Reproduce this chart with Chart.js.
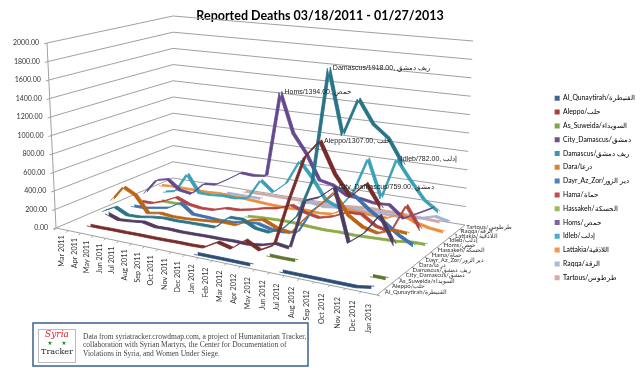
<!DOCTYPE html>
<html>
<head>
<meta charset="utf-8">
<style>
  html, body { margin: 0; padding: 0; background: #fff; }
  canvas { display: block; }
</style>
<script src="https://cdn.jsdelivr.net/npm/chart.js@4"></script>
</head>
<body>
<canvas id="deathsChart" width="640" height="368"></canvas>
<script>
const months = ["Mar 2011", "Apr 2011", "May 2011", "Jun 2011", "Jul 2011", "Aug 2011", "Sep 2011", "Oct 2011", "Nov 2011", "Dec 2011", "Jan 2012", "Feb 2012", "Mar 2012", "Apr 2012", "May 2012", "Jun 2012", "Jul 2012", "Aug 2012", "Sep 2012", "Oct 2012", "Nov 2012", "Dec 2012", "Jan 2013"];
const seriesNames = ["Al_Qunaytirah/القنيطرة", "Aleppo/حلب", "As_Suweida/السويداء", "City_Damascus/دمشق", "Damascus/ريف دمشق", "Dara/درعا", "Dayr_Az_Zor/دير الزور", "Hama/حماة", "Hassakeh/الحسكة", "Homs/حمص", "Idleb/إدلب", "Lattakia/اللاذقية", "Raqqa/الرقة", "Tartous/طرطوس"];
const valueTicks = [0, 200, 400, 600, 800, 1000, 1200, 1400, 1600, 1800, 2000];

const alQunaytirah = [null, null, null, null, null, null, null, null, null, null, 5, 5, 5, 5, 5, null, 5, 5, 5, 5, 5, 5, 30];
const aleppo = [null, 5, 5, 8, 8, 10, 10, 12, 15, 15, 20, 102, 65, 180, 105, 185, 675, 1120, 1307, 1000, 800, 960, 735];
const asSuweida = [null, null, null, null, null, null, null, null, null, null, null, null, null, null, 5, 3, 5, null, null, null, null, 5, 5];
const cityDamascus = [null, 50, 2, 13, 30, 2, 7, 2, 5, 10, 10, 15, 10, 30, 75, 55, 570, 630, 759, 225, 345, 555, 285];
const damascus = [5, 75, 10, 15, 40, 55, 50, 55, 58, 60, 195, 200, 130, 115, 185, 345, 735, 1918, 1245, 1640, 1400, 1280, 1030];
const dara = [85, 260, 190, 15, 40, 27, 30, 42, 55, 70, 65, 145, 175, 115, 88, 270, 430, 595, 380, 285, 250, 310, 300];
const dayrAzZor = [null, 5, 5, 30, 55, 140, 35, 30, 22, 25, 50, 65, 28, 22, 50, 310, 440, 590, 530, 410, 313, 205, 125];
const hama = [null, 15, 17, 66, 135, 80, 60, 65, 110, 115, 145, 185, 210, 270, 215, 185, 225, 295, 300, 200, 165, 470, 240];
const hassakeh = [null, null, 5, 3, 5, null, null, null, null, 3, 15, 20, 25, 20, 10, 5, 10, 5, 10, 15, 20, 40, 40];
const homs = [5, 180, 215, 110, 90, 230, 245, 330, 425, 415, 435, 1394, 955, 750, 480, 450, 360, 350, 325, 335, 215, 295, 380];
const idleb = [null, 5, 35, 260, 60, 60, 75, 70, 95, 325, 210, 335, 610, 435, 220, 155, 355, 745, 335, 782, 575, 387, 285];
const lattakia = [20, 30, 30, 30, 30, 40, 30, 30, 20, 10, 5, 5, 15, 5, 20, 100, 90, 80, 75, 150, 80, 45, 28];
const raqqa = [null, null, null, null, null, 5, 5, 5, 5, null, null, 35, 50, 30, 50, 65, 55, 60, 60, 55, 80, 125, 90];
const tartous = [null, null, null, null, null, null, 5, 5, 5, 5, 5, 5, 5, 5, 20, 35, 45, 40, 40, 30, 25, 15, null];

const seriesValues = [alQunaytirah, aleppo, asSuweida, cityDamascus, damascus, dara, dayrAzZor, hama, hassakeh, homs, idleb, lattakia, raqqa, tartous];
// series that carry a label on their highest point
const calloutSeries = [1, 3, 4, 9, 10];

const lineColors = ["#2c4d75", "#772c2a", "#5f7530", "#4d3b62", "#2a7488", "#bd6312", "#3f72b0", "#b04643", "#8baa48", "#65498f", "#3aa0b8", "#ee8d3c", "#a0b4d4", "#d4a5a4"];
const legendColors = ["#3d6696", "#a5403d", "#84a24a", "#6c5389", "#3c97ad", "#d9822f", "#4f81bd", "#c0504d", "#9bbb59", "#8064a2", "#4bacc6", "#f79646", "#aabad7", "#d9aaa9"];

const noteLines = [
    "Data from syriatracker.crowdmap.com, a project of Humanitarian Tracker, In",
    "collaboration with Syrian Martyrs, the Center for Documentation of",
    "Violations in Syria, and Women Under Siege."
];

// the 3D box, corners as [front, back] x [left, right], in canvas pixels
const floorX = [[56, 377], [173, 465]];
const floorY = [[228, 295], [178, 225]];
const wallHeight = [[185, 210], [162, 184]];
const wallLean = [[-9, 5], [0, 8]];
const maxValue = 2000;

const bilinear = (t, a, d) =>
    (t[0][0] * (1 - a) + t[0][1] * a) * (1 - d) + (t[1][0] * (1 - a) + t[1][1] * a) * d;
const warp = (t, k) => t / (t + (1 - t) * k);
const alongOf = (i) => warp(i, 1.15);
const depthOf = (j) => warp(j, 0.85);

function project(along, depth, value) {
    const f = value / maxValue;
    return {
        x: bilinear(floorX, along, depth) + bilinear(wallLean, along, depth) * f,
        y: bilinear(floorY, along, depth) - bilinear(wallHeight, along, depth) * f
    };
}
const monthAlong = (i) => alongOf((i + 0.5) / months.length);
const seriesDepth = (j, off) => depthOf((j + 0.5 + off) / seriesNames.length);

// every series is a flat ribbon: a front edge, a back edge and a fill between them
const datasets = [];
seriesNames.forEach((name, j) => {
    const edge = (off) => seriesValues[j].map((v, i) => {
        const p = project(monthAlong(i), seriesDepth(j, off), v === null ? 0 : v);
        return { x: p.x, y: v === null ? null : p.y };
    });
    const common = {
        showLine: true, pointRadius: 0, borderWidth: 0.8, tension: 0, clip: false,
        borderColor: lineColors[j], backgroundColor: lineColors[j], spanGaps: false
    };
    datasets.push({ ...common, label: name, data: edge(-0.2), fill: false });
    datasets.push({ ...common, label: "", data: edge(0.2), fill: "-1" });
});

const boxPlugin = {
    id: "box3d",
    afterLayout(chart) {
        // scales read directly in canvas pixels
        const { x, y } = chart.scales;
        const a = chart.chartArea;
        x.min = a.left; x.max = a.right; x.configure();
        y.min = a.top; y.max = a.bottom; y.configure();
    },
    beforeDatasetsDraw(chart) {
        const { ctx, scales } = chart;
        const px = (p) => [scales.x.getPixelForValue(p.x), scales.y.getPixelForValue(p.y)];
        ctx.save();
        ctx.strokeStyle = "#a0a0a0";
        ctx.lineWidth = 1;
        const poly = (pts) => {
            ctx.beginPath();
            pts.forEach((p, n) => { const c = px(p); n ? ctx.lineTo(c[0], c[1]) : ctx.moveTo(c[0], c[1]); });
            ctx.stroke();
        };
        valueTicks.forEach((v) => {
            const a = project(0, 0, v);
            poly([{ x: a.x - 3, y: a.y + 1 }, a, project(0, 1, v), project(1, 1, v)]);
        });
        poly([project(0, 0, 0), project(0, 0, maxValue)]);
        poly([project(0, 0, 0), project(1, 0, 0), project(1, 1, 0)]);
        months.forEach((m, i) => {
            const a = project(alongOf(i / months.length), 0, 0);
            poly([a, { x: a.x - 2, y: a.y + 2 }]);
        });
        seriesNames.forEach((s, j) => {
            const a = project(1, depthOf(j / seriesNames.length), 0);
            poly([a, { x: a.x + 3, y: a.y + 1 }]);
        });
        ctx.restore();
    },
    afterDatasetsDraw(chart) {
        const { ctx, scales } = chart;
        const px = (p) => [scales.x.getPixelForValue(p.x), scales.y.getPixelForValue(p.y)];
        ctx.save();
        ctx.fillStyle = "#333";
        ctx.textBaseline = "middle";

        // value axis
        ctx.font = "7px Lato";
        ctx.textAlign = "right";
        valueTicks.forEach((v) => {
            const c = px(project(0, 0, v));
            ctx.fillText(v.toFixed(2), c[0] - 8, c[1]);
        });

        // months, turned upright under the front edge
        ctx.font = "7.2px Lato";
        months.forEach((m, i) => {
            const g = monthAlong(i);
            const c = px(project(g, 0, 0));
            ctx.save();
            ctx.translate(c[0], c[1] + 6 + 5 * g);
            ctx.rotate(-Math.PI / 2);
            ctx.textAlign = "right";
            ctx.fillText(m, 0, 0);
            ctx.restore();
        });

        // series names along the right floor edge
        ctx.font = "6px Lato";
        ctx.textAlign = "left";
        seriesNames.forEach((name, j) => {
            const c = px(project(1, seriesDepth(j, 0), 0));
            ctx.fillText(name, c[0] + 4, c[1]);
        });

        // labels on the peaks
        ctx.font = "7px 'Liberation Sans'";
        ctx.fillStyle = "#222";
        calloutSeries.forEach((j) => {
            const vals = seriesValues[j];
            const top = vals.indexOf(Math.max(...vals));
            const c = px(project(monthAlong(top), seriesDepth(j, 0), vals[top]));
            const parts = seriesNames[j].split("/");
            ctx.fillText(parts[0] + "/" + vals[top].toFixed(2) + ", " + parts[1], c[0] + 4, c[1]);
        });

        // source note
        ctx.fillStyle = "#fff";
        ctx.fillRect(33, 323, 275, 43);
        ctx.strokeStyle = "#3b6291";
        ctx.lineWidth = 1.5;
        ctx.strokeRect(33, 323, 275, 43);
        ctx.strokeStyle = "#bbb";
        ctx.lineWidth = 1;
        ctx.strokeRect(38.5, 329.5, 37, 33);
        ctx.textAlign = "center";
        ctx.font = "italic 9px 'DejaVu Serif'";
        ctx.fillStyle = "#d9222a";
        ctx.fillText("Syria", 57, 335);
        ctx.font = "6px 'DejaVu Sans'";
        ctx.fillStyle = "#2a8a2a";
        ctx.fillText("★", 50, 343);
        ctx.fillText("★", 64, 343);
        ctx.font = "8px 'DejaVu Serif'";
        ctx.fillStyle = "#222";
        ctx.fillText("Tracker", 57, 352);
        ctx.save();
        ctx.beginPath();
        ctx.rect(33, 323, 275, 43);
        ctx.clip();
        ctx.textAlign = "left";
        ctx.font = "7.5px 'Liberation Serif'";
        ctx.fillStyle = "#444";
        noteLines.forEach((line, n) => ctx.fillText(line, 83, 337 + n * 8.5));
        ctx.restore();
        ctx.restore();
    }
};

const ctx = document.getElementById("deathsChart").getContext("2d");
new Chart(ctx, {
    type: "scatter",
    data: { datasets: datasets },
    plugins: [boxPlugin],
    options: {
        responsive: false,
        animation: false,
        layout: { padding: { top: 8, bottom: 0, left: -5, right: -5 } },
        scales: {
            x: { type: "linear", display: false, min: 0, max: 640 },
            y: { type: "linear", display: false, min: 0, max: 368, reverse: true }
        },
        plugins: {
            tooltip: { enabled: false },
            title: {
                display: true,
                text: "Reported Deaths 03/18/2011 - 01/27/2013",
                color: "#000",
                font: { family: "Lato", size: 12.5, weight: "bold" },
                padding: 0
            },
            legend: {
                position: "right",
                labels: {
                    boxWidth: 5,
                    boxHeight: 5,
                    padding: 7,
                    color: "#333",
                    font: { family: "Lato", size: 6.8 },
                    generateLabels: (chart) => seriesNames.map((name, j) => ({
                        text: name,
                        fillStyle: legendColors[j],
                        strokeStyle: legendColors[j],
                        lineWidth: 0,
                        hidden: false,
                        datasetIndex: j * 2
                    }))
                }
            }
        }
    }
});
</script>
</body>
</html>
